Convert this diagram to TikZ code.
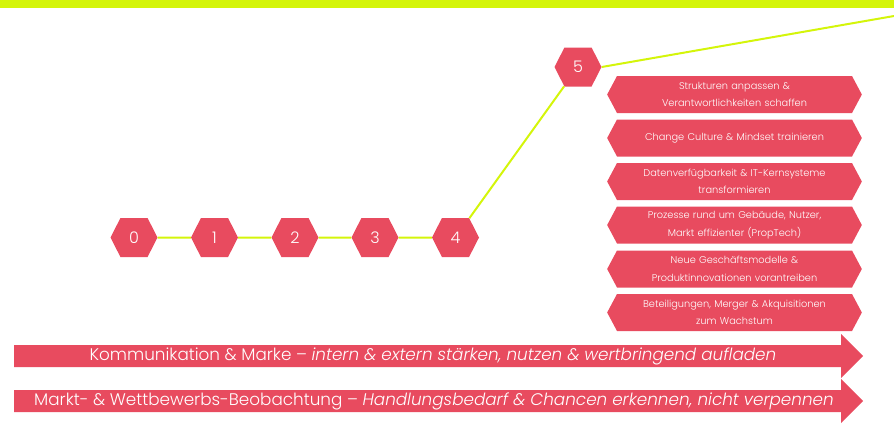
\documentclass[tikz,border=0pt]{standalone}
\usepackage{fontspec}
\setmainfont{Poppins Light}
\usetikzlibrary{shapes.symbols}
\definecolor{hred}{HTML}{E84B5F}
\definecolor{lime}{HTML}{D4F50A}
\begin{document}
\begin{tikzpicture}[x=1pt,y=-1pt,
  hexnode/.style={signal, signal to=west and east, signal pointer angle=126,
    fill=hred, text=white, minimum width=47pt, minimum height=39pt, inner sep=0pt,
    font=\fontsize{16}{18}\selectfont},
  listbox/.style={signal, signal to=west and east, signal pointer angle=124,
    fill=hred, text=white, minimum width=254pt, minimum height=37pt, inner sep=0pt,
    text width=235pt, align=center, font=\fontsize{9.8}{17.5}\selectfont},
  arrowtext/.style={text=white, inner sep=0pt, font=\fontsize{16.8}{18}\selectfont},
  link/.style={draw=lime, line width=2pt}]
\useasboundingbox (0,0) rectangle (894,424);
\fill[lime] (0,0) rectangle (894,8);

\node[hexnode] (h0) at (134,237.5) {0};
\node[hexnode] (h1) at (214.5,237.5) {1};
\node[hexnode] (h2) at (295,237.5) {2};
\node[hexnode] (h3) at (375,237.5) {3};
\node[hexnode] (h4) at (455.5,237.5) {4};
\node[hexnode] (h5) at (578,67) {5};
\coordinate (tr) at (894,16);

\draw[link] (h0) -- (h1);
\draw[link] (h1) -- (h2);
\draw[link] (h2) -- (h3);
\draw[link] (h3) -- (h4);
\draw[link] (h4) -- (h5);
\draw[link] (h5.east) -- (tr);

\node[listbox] (b1) at (734.5,94.5) {Strukturen anpassen \&\\ Verantwortlichkeiten schaffen};
\node[listbox] (b2) at (734.5,138) {Change Culture \& Mindset trainieren};
\node[listbox] (b3) at (734.5,181.5) {Datenverfügbarkeit \& IT-Kernsysteme\\ transformieren};
\node[listbox] (b4) at (734.5,225) {Prozesse rund um Gebäude, Nutzer,\\ Markt effizienter (PropTech)};
\node[listbox] (b5) at (734.5,269) {Neue Geschäftsmodelle \&\\ Produktinnovationen vorantreiben};
\node[listbox] (b6) at (734.5,312.5) {Beteiligungen, Merger \& Akquisitionen\\ zum Wachstum};

\fill[hred] (14,345) -- (841,345) -- (841,334) -- (863,356) -- (841,378) -- (841,367) -- (14,367) -- cycle;
\fill[hred] (14,390) -- (841,390) -- (841,379) -- (863,401) -- (841,423) -- (841,412) -- (14,412) -- cycle;
\node[arrowtext] (a1) at (433,356) {Kommunikation \& Marke – \textit{intern \& extern stärken, nutzen \& wertbringend aufladen}};
\node[arrowtext] (a2) at (434,401) {Markt- \& Wettbewerbs-Beobachtung – \textit{Handlungsbedarf \& Chancen erkennen, nicht verpennen}};
\end{tikzpicture}
\end{document}
